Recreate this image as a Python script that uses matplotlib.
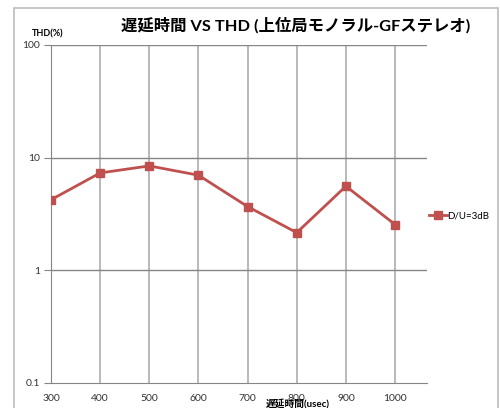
import matplotlib
matplotlib.use("Agg")
import matplotlib.pyplot as plt
from matplotlib.patches import Rectangle

# delay time (usec) vs THD (%)
delay_us = [300, 400, 500, 600, 700, 800, 900, 1000]
thd_pct = [4.23, 7.32, 8.45, 6.99, 3.68, 2.16, 5.58, 2.55]
series_name = "D/U=3dB"
y_ticks = [0.1, 1, 10, 100]
y_tick_labels = ["0.1", "1", "10", "100"]

plt.rcParams["font.family"] = ["Lato", "Noto Sans CJK JP", "DejaVu Sans"]

W, H = 500, 408
fig = plt.figure(figsize=(W / 100, H / 100), dpi=100)

# outer chart border
fig.patches.append(Rectangle((14 / W, -0.05), 484 / W, 1.05 - 8 / H,
                             transform=fig.transFigure, fill=False,
                             edgecolor="#bcbcbc", linewidth=1.2))

ax = fig.add_axes([51 / W, 1 - 383 / H, 376 / W, 338 / H])
ax.set_yscale("log")
ax.set_ylim(0.1, 100)
ax.set_xlim(300, 1065)

ax.set_xticks(delay_us)
ax.set_yticks(y_ticks)
ax.set_yticklabels(y_tick_labels)
ax.minorticks_off()
ax.tick_params(axis="both", labelsize=7.5, colors="#333333", length=0, pad=8)
ax.tick_params(axis="y", length=5, color="#868686", pad=3)

for x in delay_us[1:]:
    ax.axvline(x, color="#a6a6a6", linewidth=1.1, zorder=1)
for y in [1, 10, 100]:
    ax.axhline(y, color="#868686", linewidth=1.0, zorder=1)

for side in ["top", "right"]:
    ax.spines[side].set_visible(False)
ax.spines["left"].set_color("#868686")
ax.spines["bottom"].set_color("#868686")

ax.plot(delay_us, thd_pct, color="#C0504D", linewidth=2, marker="s",
        markersize=6, label=series_name, zorder=3)

ax.legend(loc="center left", bbox_to_anchor=(0.995, 0.495), frameon=False,
          fontsize=7, handlelength=1.8, handletextpad=0.1, borderaxespad=0)

fig.text(296 / W, 1 - 25 / H, "遅延時間 VS THD (上位局モノラル-GFステレオ)",
         ha="center", va="center", fontsize=11.8, fontweight="bold")
fig.text(48 / W, 1 - 34 / H, "THD(%)", ha="center", va="center",
         fontsize=6.5, fontweight="bold")
fig.text(298 / W, 1 - 404 / H, "遅延時間(usec)", ha="center", va="center",
         fontsize=7, fontweight="bold")

fig.savefig("out.png", dpi=100)
